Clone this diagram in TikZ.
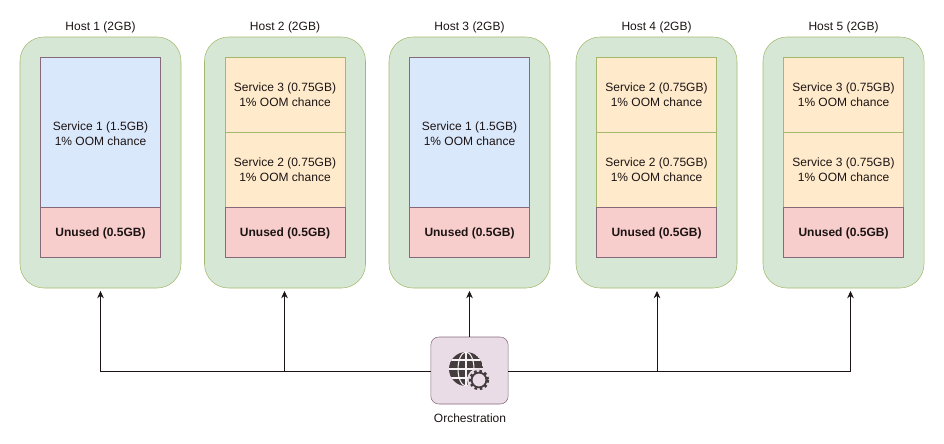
\documentclass[tikz,border=0pt]{standalone}
\usepackage{fontspec}
\setmainfont{Liberation Sans}
\usetikzlibrary{positioning,calc,arrows.meta}

\definecolor{hostfill}{HTML}{D6E8D5}
\definecolor{hostline}{HTML}{A3B86C}
\definecolor{bigfill}{HTML}{DAE8FC}
\definecolor{smallfill}{HTML}{FFEBCC}
\definecolor{unusedfill}{HTML}{F8CECC}
\definecolor{boxline}{HTML}{86697A}
\definecolor{orchfill}{HTML}{E9DCE6}
\definecolor{inkcol}{HTML}{1C1414}

\begin{document}
\begin{tikzpicture}[x=0.75pt, y=-0.75pt, every node/.style={font=\fontsize{9pt}{11.25pt}\selectfont, text=inkcol}]
            \tikzstyle{host}=[rectangle, draw=hostline, fill=hostfill, rounded corners=18pt, minimum width=120.75pt, minimum height=188.25pt, inner sep=0pt]
            \tikzstyle{bigsvc}=[rectangle, draw=boxline, fill=bigfill, minimum width=90pt, minimum height=112.5pt, inner sep=0pt, align=center, text height=21pt]
            \tikzstyle{smallsvc}=[rectangle, draw=hostline, fill=smallfill, minimum width=90pt, minimum height=56.25pt, inner sep=0pt, align=center, text height=18.75pt]
            \tikzstyle{unused}=[rectangle, draw=boxline, fill=unusedfill, minimum width=90pt, minimum height=37.5pt, inner sep=0pt, text height=8.3pt, font=\fontsize{9pt}{11.25pt}\selectfont\bfseries]
            \tikzstyle{title}=[inner sep=0pt]
            \tikzstyle{link}=[draw=inkcol, line width=0.6pt, shorten >=2pt, -{Stealth[length=5.5pt,width=5pt]}]
            \useasboundingbox (0,0) rectangle (944,443);

            % hosts
            \node[host] (host1) at (100.5,162.5) {};
            \node[host] (host2) at (285,162.5) {};
            \node[host] (host3) at (469.5,162.5) {};
            \node[host] (host4) at (656.5,162.5) {};
            \node[host] (host5) at (843.5,162.5) {};
            \node[title] (title1) at (100.5,27.5) {Host 1 (2GB)};
            \node[title] (title2) at (285,27.5) {Host 2 (2GB)};
            \node[title] (title3) at (469.5,27.5) {Host 3 (2GB)};
            \node[title] (title4) at (656.5,27.5) {Host 4 (2GB)};
            \node[title] (title5) at (843.5,27.5) {Host 5 (2GB)};

            % services
            \node[bigsvc] (svc1) at (100.5,132) {Service 1 (1.5GB)\\1\% OOM chance};
            \node[smallsvc] (svc2a) at (285,94.5) {Service 3 (0.75GB)\\1\% OOM chance};
            \node[smallsvc] (svc2b) at (285,169.5) {Service 2 (0.75GB)\\1\% OOM chance};
            \node[bigsvc] (svc3) at (469.5,132) {Service 1 (1.5GB)\\1\% OOM chance};
            \node[smallsvc] (svc4a) at (656.5,94.5) {Service 2 (0.75GB)\\1\% OOM chance};
            \node[smallsvc] (svc4b) at (656.5,169.5) {Service 2 (0.75GB)\\1\% OOM chance};
            \node[smallsvc] (svc5a) at (843.5,94.5) {Service 3 (0.75GB)\\1\% OOM chance};
            \node[smallsvc] (svc5b) at (843.5,169.5) {Service 3 (0.75GB)\\1\% OOM chance};
            \node[unused] (free1) at (100.5,232) {Unused (0.5GB)};
            \node[unused] (free2) at (285,232) {Unused (0.5GB)};
            \node[unused] (free3) at (469.5,232) {Unused (0.5GB)};
            \node[unused] (free4) at (656.5,232) {Unused (0.5GB)};
            \node[unused] (free5) at (843.5,232) {Unused (0.5GB)};

            % orchestration
            \node[draw=boxline, fill=orchfill, rounded corners=6pt, minimum width=58pt, minimum height=50.25pt, inner sep=0pt] (orch) at (469.5,370.5) {};
            \node[title] (orchlabel) at (470,418) {Orchestration};
            \begin{scope}
                \clip (466,369) circle (17);
                \fill[inkcol!80!orchfill] (466,369) circle (17);
                \draw[orchfill!40!white, line width=0.8pt] (449,369) -- (483,369);
                \draw[orchfill!40!white, line width=0.8pt] (466,352) -- (466,386);
                \draw[orchfill!40!white, line width=0.8pt] (451,360) -- (481,360);
                \draw[orchfill!40!white, line width=0.8pt] (451,378) -- (481,378);
                \draw[orchfill!40!white, line width=0.8pt] (466,369) ellipse (8 and 17);
            \end{scope}
            \fill[orchfill] (479,380) circle (12);
            \draw[inkcol!80!orchfill, line width=2.4pt, dash pattern=on 1.9pt off 1.9pt] (479,380) circle (8.6);
            \draw[inkcol!80!orchfill, line width=1.3pt] (479,380) circle (7.4);

            % links
            \coordinate (tap1) at (100.5,371.5);
            \coordinate (tap2) at (284.5,371.5);
            \coordinate (tap4) at (657,371.5);
            \coordinate (tap5) at (850.5,371.5);
            \coordinate (lefthook) at (orch.west |- tap1);
            \coordinate (righthook) at (orch.east |- tap1);
            \draw[link] (lefthook) -- (tap1) -- (tap1 |- host1.south);
            \draw[link] (tap2) -- (tap2 |- host2.south);
            \draw[link] (orch.north) -- (host3.south);
            \draw[link] (righthook) -- (tap5) -- (tap5 |- host5.south);
            \draw[link] (tap4) -- (tap4 |- host4.south);
        \end{tikzpicture}
\end{document}
